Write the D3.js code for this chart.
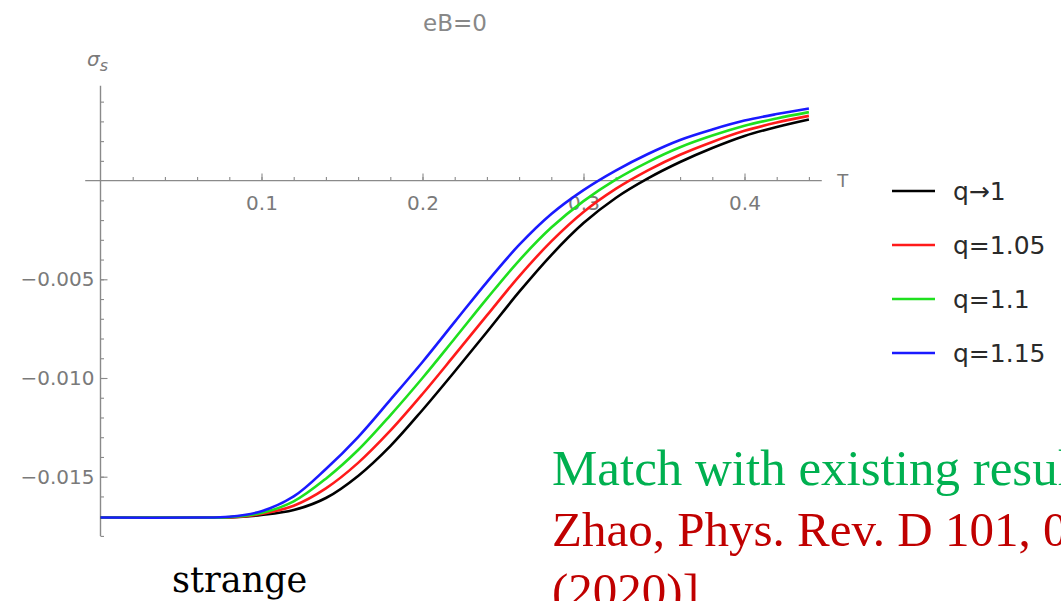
<!DOCTYPE html>
<html>
<head>
<meta charset="utf-8">
<script src="https://cdn.jsdelivr.net/npm/d3@7"></script>
<style>
  body { margin: 0; background: #fff; }
  svg { display: block; }
</style>
</head>
<body>
<div id="chart"></div>
<script>
// temperature grid (GeV) and sigma_s values
var temps = [0, 0.06, 0.08, 0.10, 0.12, 0.14, 0.16, 0.18, 0.20, 0.22, 0.24,
             0.26, 0.28, 0.30, 0.32, 0.34, 0.36, 0.38, 0.40, 0.42, 0.44];
var sigmaQ1 = [-0.01707, -0.01707, -0.01706, -0.01694, -0.01669, -0.01608, -0.01496,
               -0.01345, -0.01162, -0.00967, -0.00767, -0.00564, -0.00377, -0.00215,
               -0.00088, 0.00011, 0.00094, 0.00165, 0.00226, 0.00272, 0.00310];
var sigmaQ105 = [-0.01707, -0.01707, -0.01706, -0.01689, -0.01647, -0.01559, -0.01430,
                 -0.01267, -0.01081, -0.00883, -0.00683, -0.00485, -0.00308, -0.00159,
                 -0.00042, 0.00052, 0.00131, 0.00196, 0.00252, 0.00294, 0.00328];
var sigmaQ11 = [-0.01707, -0.01707, -0.01705, -0.01684, -0.01625, -0.01510, -0.01365,
                -0.01189, -0.01000, -0.00800, -0.00598, -0.00405, -0.00238, -0.00104,
                0.00005, 0.00094, 0.00169, 0.00228, 0.00278, 0.00315, 0.00347];
var sigmaQ115 = [-0.01707, -0.01707, -0.01703, -0.01675, -0.01600, -0.01461, -0.01299,
                 -0.01111, -0.00919, -0.00716, -0.00514, -0.00326, -0.00169, -0.00048,
                 0.00051, 0.00135, 0.00206, 0.00259, 0.00304, 0.00337, 0.00365];

var seriesNames = ["q\u21921", "q=1.05", "q=1.1", "q=1.15"];
var seriesColors = ["#000000", "#ff1a1a", "#1fe01f", "#1a1aff"];
var seriesValues = [sigmaQ1, sigmaQ105, sigmaQ11, sigmaQ115];

var xTickLabels = [0.1, 0.2, 0.3, 0.4];
var yTickLabels = [-0.015, -0.010, -0.005];

var width = 1061, height = 601;

var svg = d3.select("#chart")
  .append("svg")
  .attr("width", width)
  .attr("height", height);

var x = d3.scaleLinear().domain([0, 0.44]).range([100.5, 808.9]);
var y = d3.scaleLinear().domain([-0.005, 0]).range([279.3, 180.6]);

var axisColor = "#8a8a8a", labelColor = "#7a7a7a";
var tickFont = "DejaVu Sans, sans-serif";

// title
svg.append("text")
  .attr("x", 455).attr("y", 31)
  .attr("text-anchor", "middle")
  .style("font", "23px " + tickFont)
  .attr("fill", "#888")
  .text("eB=0");

// axis lines
svg.append("line")
  .attr("x1", x(-0.0095)).attr("x2", x(0.448))
  .attr("y1", y(0)).attr("y2", y(0))
  .attr("stroke", axisColor).attr("stroke-width", 1.4);
svg.append("line")
  .attr("x1", x(0)).attr("x2", x(0))
  .attr("y1", y(0.0048)).attr("y2", y(-0.018))
  .attr("stroke", axisColor).attr("stroke-width", 1.4);

// x minor ticks
svg.append("g")
  .attr("transform", "translate(0," + y(0) + ")")
  .call(d3.axisBottom(x)
    .tickValues(d3.range(1, 23).map(function(i) { return i * 0.02; }))
    .tickSize(-3.5)
    .tickFormat(""));
// x major ticks + labels
svg.append("g")
  .attr("transform", "translate(0," + y(0) + ")")
  .call(d3.axisBottom(x)
    .tickValues(xTickLabels)
    .tickSize(-7)
    .tickPadding(15)
    .tickFormat(d3.format(".1f")));

// y minor ticks
svg.append("g")
  .attr("transform", "translate(" + x(0) + ",0)")
  .call(d3.axisLeft(y)
    .tickValues(d3.range(-18, 5).filter(function(i) { return i != 0; })
      .map(function(i) { return i * 0.001; }))
    .tickSize(-3.5)
    .tickFormat(""));
// y major ticks + labels
svg.append("g")
  .attr("transform", "translate(" + x(0) + ",0)")
  .call(d3.axisLeft(y)
    .tickValues(yTickLabels)
    .tickSize(-7)
    .tickPadding(6)
    .tickFormat(d3.format(".3f")));

svg.selectAll(".domain").remove();
svg.selectAll(".tick line").attr("stroke", axisColor).attr("stroke-width", 1.1);
svg.selectAll(".tick text")
  .attr("fill", labelColor)
  .style("font-family", tickFont)
  .style("font-size", "20px");

// axis labels
svg.append("text")
  .attr("x", x(0.4465) + 18).attr("y", y(0) + 6)
  .style("font", "18px " + tickFont)
  .attr("fill", labelColor)
  .text("T");

var sig = svg.append("text")
  .attr("x", 87).attr("y", 66)
  .style("font-family", tickFont)
  .style("font-size", "20px")
  .style("font-style", "italic")
  .attr("fill", labelColor);
sig.append("tspan").text("\u03c3");
sig.append("tspan").attr("dy", 5).style("font-size", "16px").text("s");

// curves
var line = d3.line()
  .x(function(d, i) { return x(temps[i]); })
  .y(function(d) { return y(d); })
  .curve(d3.curveCatmullRom);

svg.selectAll(".curve")
  .data(seriesValues)
  .enter()
  .append("path")
  .attr("class", "curve")
  .attr("fill", "none")
  .attr("stroke", function(d, i) { return seriesColors[i]; })
  .attr("stroke-width", 2.6)
  .attr("d", line);

// legend
var legend = svg.selectAll(".legend")
  .data(seriesNames)
  .enter()
  .append("g")
  .attr("class", "legend")
  .attr("transform", function(d, i) { return "translate(892," + (191 + i * 54) + ")"; });

legend.append("line")
  .attr("x1", 0).attr("x2", 43)
  .attr("stroke", function(d, i) { return seriesColors[i]; })
  .attr("stroke-width", 2.6);

legend.append("text")
  .attr("x", 61).attr("y", 9)
  .style("font", "25px " + tickFont)
  .attr("fill", "#2a2a2a")
  .text(function(d) { return d; });

// slide annotations
svg.append("text")
  .attr("x", 172).attr("y", 592)
  .style("font", "35px 'DejaVu Serif', serif")
  .attr("fill", "#000")
  .text("strange");

var notes = svg.append("text")
  .attr("x", 552)
  .style("font", "51px 'Liberation Serif', serif");
notes.append("tspan").attr("x", 552).attr("y", 485)
  .attr("fill", "#00b050").text("Match with existing results");
notes.append("tspan").attr("x", 552).attr("y", 546)
  .style("font-size", "49px")
  .attr("fill", "#c00000").text("Zhao, Phys. Rev. D 101, 0");
notes.append("tspan").attr("x", 552).attr("y", 607)
  .style("font-size", "49px")
  .attr("fill", "#c00000").text("(2020)]");
</script>
</body>
</html>
